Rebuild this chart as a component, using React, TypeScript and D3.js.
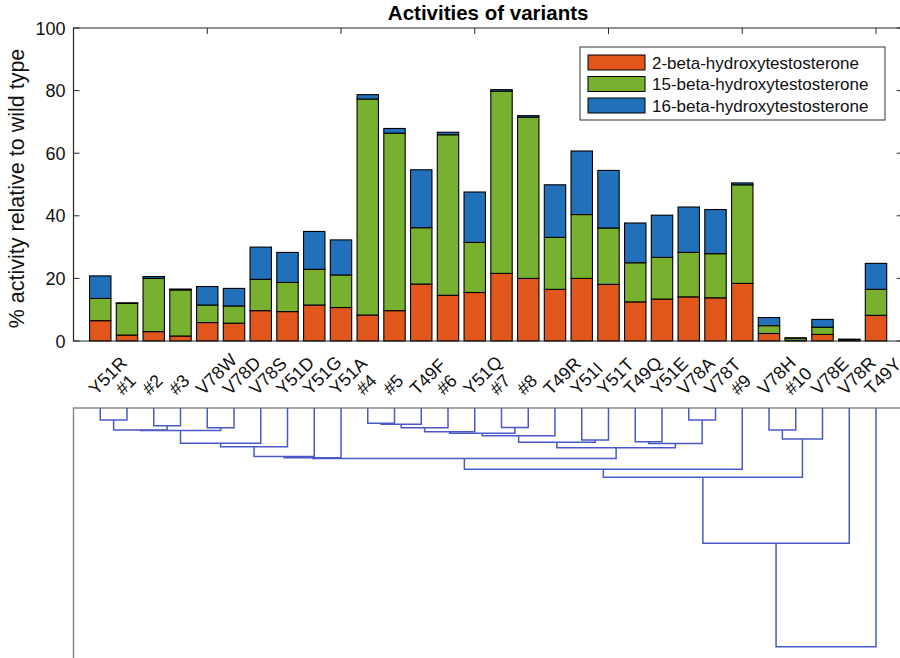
import React from 'react'
import * as d3 from 'd3'

// variants, in dendrogram leaf order
const variants = ['Y51R', '#1', '#2', '#3', 'V78W', 'V78D', 'V78S', 'Y51D', 'Y51G', 'Y51A',
  '#4', '#5', 'T49F', '#6', 'Y51Q', '#7', '#8', 'T49R', 'Y51I', 'Y51T',
  'T49Q', 'Y51E', 'V78A', 'V78T', '#9', 'V78H', '#10', 'V78E', 'V78R', 'T49Y']

const seriesNames = ['2-beta-hydroxytestosterone', '15-beta-hydroxytestosterone', '16-beta-hydroxytestosterone']
const seriesColors = ['#E0561B', '#78B12F', '#2070BA']

// % activity relative to wild type, one segment per product
const beta2 = [6.5, 1.9, 3.0, 1.6, 5.9, 5.7, 9.7, 9.4, 11.5, 10.7, 8.3, 9.7, 18.2, 14.6, 15.5,
  21.6, 20.0, 16.5, 20.0, 18.1, 12.5, 13.4, 14.1, 13.8, 18.4, 2.4, 0.2, 2.1, 0.2, 8.2]
const beta15 = [7.1, 10.1, 17.0, 14.7, 5.6, 5.5, 10.0, 9.3, 11.4, 10.4, 69.0, 56.7, 18.0, 51.3, 16.0,
  58.2, 51.5, 16.6, 20.4, 18.0, 12.5, 13.3, 14.2, 14.1, 31.5, 2.5, 0.7, 2.3, 0.2, 8.3]
const beta16 = [7.2, 0.2, 0.6, 0.3, 5.9, 5.6, 10.3, 9.6, 12.1, 11.2, 1.4, 1.5, 18.5, 0.8, 16.1,
  0.5, 0.5, 16.8, 20.3, 18.4, 12.7, 13.5, 14.5, 14.1, 0.6, 2.6, 0.1, 2.5, 0.2, 8.3]

const yTicks = [0, 20, 40, 60, 80, 100]
const xTicks = [5, 10, 15, 20, 25, 30]

// linkage: [left node, right node, height]; leaves are 0..29, merge k makes node 30 + k
const linkage = [
  [0, 1, 0.12], [2, 3, 0.177], [4, 5, 0.197], [30, 31, 0.22], [33, 32, 0.225],
  [34, 6, 0.353], [35, 7, 0.387], [36, 8, 0.485], [37, 9, 0.497],
  [10, 11, 0.153], [39, 12, 0.163], [40, 13, 0.197], [15, 16, 0.195], [41, 14, 0.237],
  [43, 42, 0.253], [44, 17, 0.277], [18, 19, 0.32], [45, 46, 0.343], [20, 21, 0.337],
  [22, 23, 0.12], [48, 49, 0.355], [47, 50, 0.397], [38, 51, 0.506], [52, 24, 0.613],
  [25, 26, 0.22], [54, 27, 0.31], [53, 55, 0.693], [56, 28, 1.353], [57, 29, 2.387],
]

const FONT = '"Liberation Sans", Arial, Helvetica, sans-serif'

export default function App() {
  const width = 900
  const height = 658

  const x = d3.scaleLinear().domain([0, 31]).range([73.5, 902.75])
  const y = d3.scaleLinear().domain([0, 100]).range([341, 28])
  const yd = d3.scaleLinear().domain([0, 2.5]).range([408, 658])
  const barW = x(0.8) - x(0)

  const table = variants.map((name, i) => ({name, i, s0: beta2[i], s1: beta15[i], s2: beta16[i]}))
  const stacked = d3.stack().keys(['s0', 's1', 's2'])(table as any)

  // dendrogram node positions
  const nodeX: number[] = variants.map((_, i) => x(i + 1))
  const nodeH: number[] = variants.map(() => 0)
  const links = linkage.map(([a, b, h]) => {
    const path = `M${nodeX[a]},${yd(nodeH[a])}V${yd(h)}H${nodeX[b]}V${yd(nodeH[b])}`
    nodeX.push((nodeX[a] + nodeX[b]) / 2)
    nodeH.push(h)
    return path
  })

  const axisColor = '#262626'

  return <svg {...{width, height}} style={{position: 'absolute', left: 0, top: 0, background: '#fff'}}
    fontFamily={FONT}>
    <text x={x(15.5)} y={20} textAnchor="middle" fontSize={20.5} fontWeight="bold" fill="#000">
      Activities of variants
    </text>

    {/* ticks, under the bars */}
    <g stroke={axisColor} strokeWidth={1}>
      {yTicks.map(t => <g key={t}>
        <line x1={x(0)} x2={x(0) + 6} y1={y(t)} y2={y(t)} />
        <line x1={x(31)} x2={x(31) - 6} y1={y(t)} y2={y(t)} />
      </g>)}
      {xTicks.map(t => <g key={t}>
        <line x1={x(t)} x2={x(t)} y1={y(100)} y2={y(100) + 6} />
        <line x1={x(t)} x2={x(t)} y1={y(0)} y2={y(0) - 6} />
      </g>)}
    </g>

    {stacked.map((layer, k) => <g key={k} fill={seriesColors[k]} stroke="#000" strokeWidth={1.1}>
      {layer.map((d, i) => <rect key={i}
        x={x(i + 1) - barW / 2} width={barW}
        y={y(d[1])} height={y(d[0]) - y(d[1])} />)}
    </g>)}

    <g stroke={axisColor} strokeWidth={1.2} fill="none">
      <path d={`M${x(31)},${y(100)}H${x(0)}V${y(0)}H${x(31)}`} />
    </g>

    <g fontSize={18} fill="#111" textAnchor="end">
      {yTicks.map(t => <text key={t} x={x(0) - 8} y={y(t) + 6.5}>{t}</text>)}
    </g>
    <text transform={`translate(24,${(y(0) + y(100)) / 2 + 4}) rotate(-90)`} textAnchor="middle"
      fontSize={21.5} fill="#111">% activity relative to wild type</text>

    {/* legend */}
    <g>
      <rect x={580} y={47} width={305} height={73} fill="#fff" stroke="#333" strokeWidth={1} />
      {seriesNames.map((s, k) => <g key={s} transform={`translate(0,${62.5 + k * 21.5})`}>
        <rect x={588} y={-7.5} width={57} height={15} fill={seriesColors[k]} stroke="#000" strokeWidth={1} />
        <text x={652} y={6} fontSize={17} fill="#111">{s}</text>
      </g>)}
    </g>

    {/* rotated variant labels */}
    <g fontSize={18} fill="#111">
      {variants.map((v, i) => <text key={v}
        transform={`translate(${x(i + 1) - 4},396) rotate(-45)`}>{v}</text>)}
    </g>

    {/* dendrogram */}
    <g stroke="#8a8a8a" strokeWidth={1.5} fill="none">
      <path d={`M${x(0)},${height}V${yd(0)}H${width}`} />
    </g>
    <g stroke="#4B59C8" strokeWidth={1.5} fill="none">
      {links.map((p, i) => <path key={i} d={p} />)}
    </g>
  </svg>
}
